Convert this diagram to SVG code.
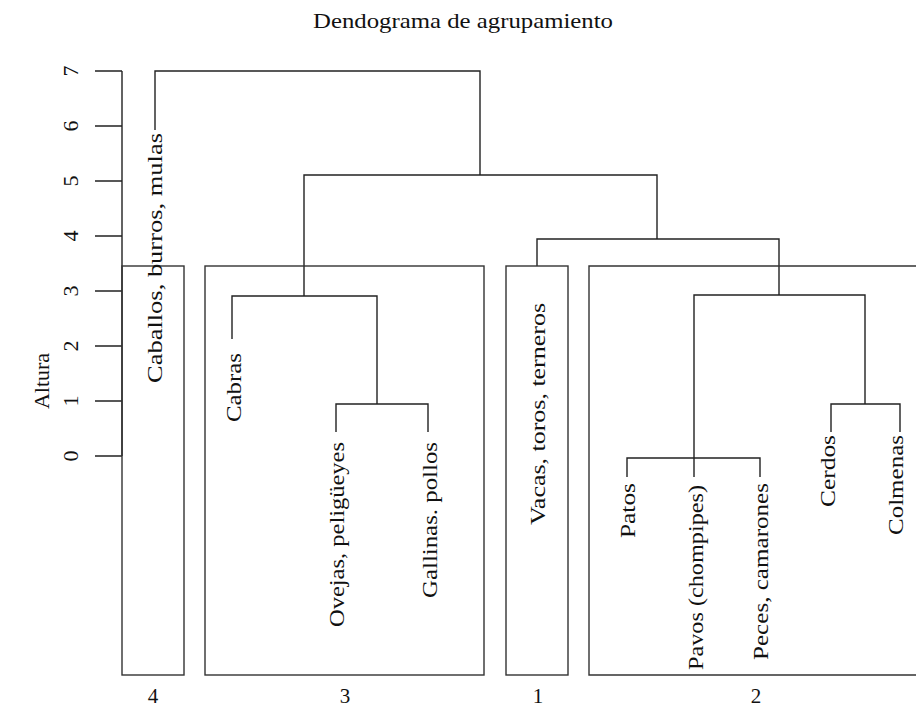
<svg xmlns="http://www.w3.org/2000/svg" width="916" height="708" viewBox="0 0 916 708">
<style>
text{font-family:'Liberation Serif','Times New Roman',Times,serif;font-size:22px;fill:#111}
.ln{fill:none;stroke:#222;stroke-width:1.4}
.bx{fill:none;stroke:#333;stroke-width:1.4}
.nb{font-size:21px}
</style>
<rect width="916" height="708" fill="#fff"/>
<text x="463" y="28" text-anchor="middle" textLength="300" lengthAdjust="spacingAndGlyphs">Dendograma de agrupamiento</text>
<g id="axis">
<path class="ln" d="M122,71V456M95,71H122M95,126H122M95,181H122M95,236H122M95,291H122M95,346H122M95,401H122M95,456H122"/>
<text transform="translate(78,456) rotate(-90)" text-anchor="middle">0</text>
<text transform="translate(78,401) rotate(-90)" text-anchor="middle">1</text>
<text transform="translate(78,346) rotate(-90)" text-anchor="middle">2</text>
<text transform="translate(78,291) rotate(-90)" text-anchor="middle">3</text>
<text transform="translate(78,236) rotate(-90)" text-anchor="middle">4</text>
<text transform="translate(78,181) rotate(-90)" text-anchor="middle">5</text>
<text transform="translate(78,126) rotate(-90)" text-anchor="middle">6</text>
<text transform="translate(78,71) rotate(-90)" text-anchor="middle">7</text>
<text transform="translate(49,381) rotate(-90)" text-anchor="middle">Altura</text>
</g>
<g id="connectors">
<path class="ln" d="M155,130V71H480V175"/>
<path class="ln" d="M304,296V175H657V239"/>
<path class="ln" d="M232,339V296H377V404"/>
<path class="ln" d="M336,432V404H428V432"/>
<path class="ln" d="M537,266V239H779V295"/>
<path class="ln" d="M694,477V295H865V404"/>
<path class="ln" d="M627,477V458H760V477"/>
<path class="ln" d="M831,432V404H900V432"/>
</g>
<g id="cluster4">
<rect class="bx" x="122" y="266" width="62" height="409"/>
<text class="nb" x="153" y="703" text-anchor="middle">4</text>
</g>
<g id="cluster3">
<rect class="bx" x="205" y="266" width="279" height="409"/>
<text class="nb" x="345" y="703" text-anchor="middle">3</text>
</g>
<g id="cluster1">
<rect class="bx" x="506" y="266" width="62" height="409"/>
<text class="nb" x="538" y="703" text-anchor="middle">1</text>
</g>
<g id="cluster2">
<path class="bx" d="M916,266H589V675H916"/>
<text class="nb" x="756" y="703" text-anchor="middle">2</text>
</g>
<g id="leaf-caballos"><text transform="translate(162,133) rotate(-90)" text-anchor="end" textLength="250" lengthAdjust="spacingAndGlyphs">Caballos,  burros,  mulas</text></g>
<g id="leaf-cabras"><text transform="translate(241,353) rotate(-90)" text-anchor="end" textLength="69" lengthAdjust="spacingAndGlyphs">Cabras</text></g>
<g id="leaf-ovejas"><text transform="translate(344,442) rotate(-90)" text-anchor="end" textLength="185" lengthAdjust="spacingAndGlyphs">Ovejas, peligüeyes</text></g>
<g id="leaf-gallinas"><text transform="translate(437,442) rotate(-90)" text-anchor="end" textLength="156" lengthAdjust="spacingAndGlyphs">Gallinas. pollos</text></g>
<g id="leaf-vacas"><text transform="translate(545,303) rotate(-90)" text-anchor="end" textLength="222" lengthAdjust="spacingAndGlyphs">Vacas, toros, terneros</text></g>
<g id="leaf-patos"><text transform="translate(635,483) rotate(-90)" text-anchor="end" textLength="55" lengthAdjust="spacingAndGlyphs">Patos</text></g>
<g id="leaf-pavos"><text transform="translate(703,485) rotate(-90)" text-anchor="end" textLength="185" lengthAdjust="spacingAndGlyphs">Pavos (chompipes)</text></g>
<g id="leaf-peces"><text transform="translate(768,483) rotate(-90)" text-anchor="end" textLength="177" lengthAdjust="spacingAndGlyphs">Peces, camarones</text></g>
<g id="leaf-cerdos"><text transform="translate(835,435) rotate(-90)" text-anchor="end" textLength="72" lengthAdjust="spacingAndGlyphs">Cerdos</text></g>
<g id="leaf-colmenas"><text transform="translate(903,435) rotate(-90)" text-anchor="end" textLength="100" lengthAdjust="spacingAndGlyphs">Colmenas</text></g>
</svg>
